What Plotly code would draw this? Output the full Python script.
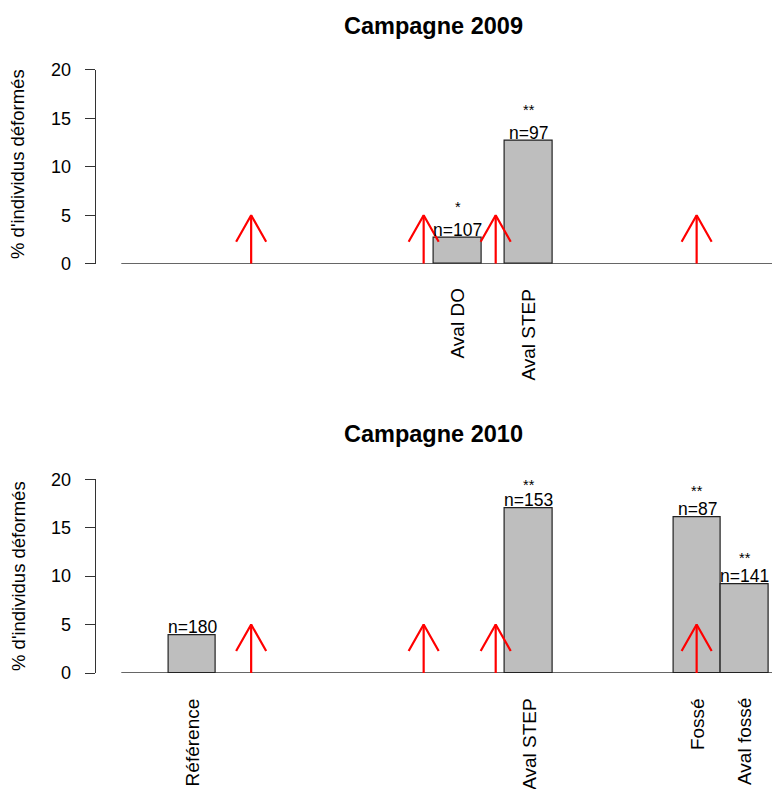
import math
import plotly.graph_objects as go

# ---------------- data ----------------
sites_2009 = ["Aval DO", "Aval STEP"]
pos_2009 = [7.1, 8.6]
pct_2009 = [2.7, 12.7]
n_2009 = [107, 97]
stars_2009 = ["*", "**"]
star_y_2009 = [6.05, 16.05]

sites_2010 = ["Référence", "Aval STEP", "Fossé", "Aval fossé"]
pos_2010 = [1.5, 8.6, 12.15, 13.15]
pct_2010 = [3.9, 17.0, 16.1, 9.2]
n_2010 = [180, 153, 87, 141]
stars_2010 = ["", "**", "**", "**"]
star_y_2010 = [None, 19.6, 18.9, 12.05]

arrow_pos = [2.74, 6.38, 7.9, 12.14]
arrow_height = 5

y_ticks = [0, 5, 10, 15, 20]
titles = ["Campagne 2009", "Campagne 2010"]
ylab = "% d'individus déformés"

# ---------------- geometry / style ----------------
W, H = 772, 789
FONT = "Liberation Sans, Arial, Helvetica, sans-serif"
PLOT_LEFT = 95.7
X_RANGE = [-0.54, 13.73]
Y_RANGE = [0, 20]
AX_COL = "#333333"
panels = [
    dict(top=69.7, bottom=263.7, title_y=26, ylab_y=164),
    dict(top=479.3, bottom=673.0, title_y=434, ylab_y=576),
]
px_per_x = (W - PLOT_LEFT) / (X_RANGE[1] - X_RANGE[0])
px_per_y = (panels[0]["bottom"] - panels[0]["top"]) / (Y_RANGE[1] - Y_RANGE[0])
barb_len, barb_ang = 30.5, 29.5
barb_dx = barb_len * math.sin(math.radians(barb_ang)) / px_per_x
barb_dy = barb_len * math.cos(math.radians(barb_ang)) / px_per_y


def py(px):
    return 1 - px / H


fig = go.Figure()
annotations = []
shapes = []

datasets = [
    (sites_2009, pos_2009, pct_2009, n_2009, stars_2009, star_y_2009),
    (sites_2010, pos_2010, pct_2010, n_2010, stars_2010, star_y_2010),
]

for i, (sites, pos, pct, ns, stars, stary) in enumerate(datasets):
    sfx = "" if i == 0 else str(i + 1)
    xr, yr = "x" + sfx, "y" + sfx
    fig.add_trace(go.Bar(
        x=pos, y=pct, width=1, xaxis=xr, yaxis=yr,
        marker=dict(color="#BEBEBE", line=dict(color="#222222", width=1.2)),
        showlegend=False, hoverinfo="skip",
    ))
    ax, ay = [], []
    for a in arrow_pos:
        ax += [a, a, None, a - barb_dx, a, a + barb_dx, None]
        ay += [0, arrow_height, None, arrow_height - barb_dy, arrow_height,
               arrow_height - barb_dy, None]
    fig.add_trace(go.Scatter(
        x=ax, y=ay, mode="lines", xaxis=xr, yaxis=yr,
        line=dict(color="#FF0000", width=2.2), showlegend=False, hoverinfo="skip",
    ))
    shapes.append(dict(type="line", xref=xr, yref=yr, x0=0, x1=X_RANGE[1] + 1,
                       y0=0, y1=0, line=dict(color=AX_COL, width=1.3), layer="below"))
    for s, x, v, n, st, sy in zip(sites, pos, pct, ns, stars, stary):
        annotations.append(dict(xref=xr, yref=yr, x=x, y=0, text=s, showarrow=False,
                                textangle=-90, xanchor="center", yanchor="top", yshift=-23,
                                font=dict(size=19, color="black", family=FONT)))
        annotations.append(dict(xref=xr, yref=yr, x=x, y=v, text=f"n={n}", showarrow=False,
                                xanchor="center", yanchor="bottom", yshift=-4,
                                font=dict(size=17.5, color="black", family=FONT)))
        if st:
            annotations.append(dict(xref=xr, yref=yr, x=x, y=sy, text=st, showarrow=False,
                                    xanchor="center", yanchor="middle", yshift=-1.5,
                                    font=dict(size=14.5, color="black", family=FONT)))
    p = panels[i]
    annotations.append(dict(xref="paper", yref="paper", x=433 / W, y=py(p["title_y"]),
                            text="<b>" + titles[i] + "</b>", showarrow=False,
                            xanchor="center", yanchor="middle",
                            font=dict(size=23.5, color="black", family=FONT)))
    annotations.append(dict(xref="paper", yref="paper", x=18 / W, y=py(p["ylab_y"]),
                            text=ylab, showarrow=False, textangle=-90,
                            xanchor="center", yanchor="middle",
                            font=dict(size=18.5, color="black", family=FONT)))

axis_common_x = dict(range=X_RANGE, domain=[PLOT_LEFT / W, 1], showgrid=False,
                     zeroline=False, showline=False, showticklabels=False, ticks="",
                     automargin=False)
axis_common_y = dict(range=Y_RANGE, showgrid=False, zeroline=False, showline=True,
                     linecolor=AX_COL, linewidth=1.3, ticks="outside", ticklen=10,
                     tickcolor=AX_COL, tickwidth=1.3, tickvals=y_ticks,
                     ticklabelstandoff=10, automargin=False,
                     tickfont=dict(size=18, color="black", family=FONT))

fig.update_layout(
    width=W, height=H, margin=dict(l=0, r=0, t=0, b=0, pad=0, autoexpand=False),
    autosize=False,
    paper_bgcolor="white", plot_bgcolor="white",
    xaxis=dict(**axis_common_x, anchor="y"),
    xaxis2=dict(**axis_common_x, anchor="y2"),
    yaxis=dict(**axis_common_y, anchor="x",
               domain=[py(panels[0]["bottom"]), py(panels[0]["top"])]),
    yaxis2=dict(**axis_common_y, anchor="x2",
                domain=[py(panels[1]["bottom"]), py(panels[1]["top"])]),
    annotations=annotations, shapes=shapes, bargap=0,
    font=dict(family=FONT, color="black"),
)

fig.write_html("out.html", config={"displayModeBar": False},
               post_script="document.body.style.margin='0';document.body.style.overflow='hidden';")
